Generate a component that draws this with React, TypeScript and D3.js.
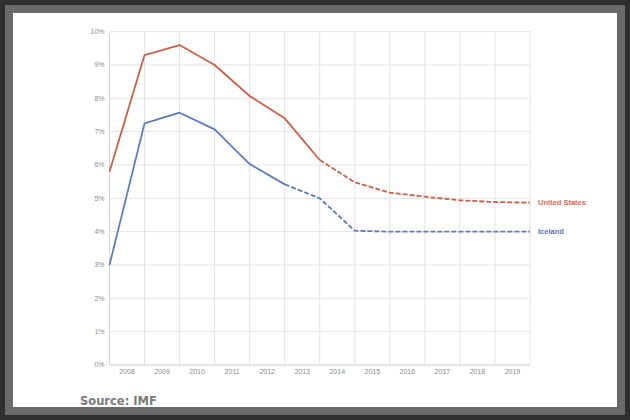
import React from "react";
import * as d3 from "d3";

const years = ["2008", "2009", "2010", "2011", "2012", "2013", "2014", "2015", "2016", "2017", "2018", "2019"];
const yTicks = [0, 1, 2, 3, 4, 5, 6, 7, 8, 9, 10];
// values at the 13 period boundaries (gridlines)
const usValues = [5.8, 9.3, 9.6, 9.0, 8.07, 7.4, 6.15, 5.48, 5.17, 5.05, 4.94, 4.89, 4.87];
const icelandValues = [3.0, 7.25, 7.57, 7.07, 6.03, 5.42, 5.0, 4.03, 4.0, 4.0, 4.0, 4.0, 4.0];
const usSolidUntil = 6;
const icelandSolidUntil = 5;

const W = 630;
const H = 420;
const left = 109.5;
const right = 530;
const top = 31.7;
const bottom = 365;

const US_COLOR = "#c4624b";
const IS_COLOR = "#5c7cbc";

export default function App() {
  const x = d3.scaleLinear().domain([0, years.length]).range([left, right]);
  const y = d3.scaleLinear().domain([0, 10]).range([bottom, top]);
  const line = d3
    .line<number>()
    .x((_, i) => x(i))
    .y((d) => y(d));

  const seg = (vals: number[], from: number, to: number) =>
    line.x((_, i) => x(i + from))(vals.slice(from, to + 1)) || "";

  const series = [
    { name: "United States", vals: usValues, split: usSolidUntil, color: US_COLOR, label: "#cf6a52" },
    { name: "Iceland", vals: icelandValues, split: icelandSolidUntil, color: IS_COLOR, label: "#5a6fbf" },
  ];

  const gridX = d3.range(0, years.length + 1);

  return (
    <svg
      width={W}
      height={H}
      style={{ position: "absolute", left: 0, top: 0 }}
      fontFamily="'Liberation Sans', Arial, sans-serif"
    >
      <rect x={0} y={0} width={W} height={H} fill="#2f2f2f" />
      <rect x={5} y={5} width={620} height={410} fill="#6a6a6a" />
      <rect x={13} y={13} width={604} height={394} fill="#ffffff" />

      {yTicks.map((t) => (
        <g key={"y" + t}>
          <line x1={left} x2={right} y1={y(t)} y2={y(t)} stroke="#e2e2e2" strokeWidth={1} />
          <text x={left - 5} y={y(t)} dy="0.35em" textAnchor="end" fontSize={7} fill="#8a8a8a">
            {t + "%"}
          </text>
        </g>
      ))}
      {gridX.map((g) => (
        <line key={"x" + g} x1={x(g)} x2={x(g)} y1={top} y2={bottom} stroke="#e2e2e2" strokeWidth={1} />
      ))}
      <line x1={left} x2={left} y1={top} y2={bottom} stroke="#d6d6d6" strokeWidth={1} />
      <line x1={left} x2={right} y1={bottom} y2={bottom} stroke="#d6d6d6" strokeWidth={1} />

      {years.map((yr, i) => (
        <text key={yr} x={x(i + 0.5)} y={371.7} dy="0.35em" textAnchor="middle" fontSize={7} fill="#8a8a8a">
          {yr}
        </text>
      ))}

      {series.map((s) => (
        <g key={s.name}>
          <path d={seg(s.vals, 0, s.split)} fill="none" stroke={s.color} strokeWidth={1.8} strokeLinejoin="round" />
          <path
            d={seg(s.vals, s.split, s.vals.length - 1)}
            fill="none"
            stroke={s.color}
            strokeWidth={1.8}
            strokeDasharray="5,2"
            strokeLinejoin="round"
          />
          <text
            x={right + 8}
            y={y(s.vals[s.vals.length - 1])}
            dy="0.35em"
            fontSize={7.5}
            fontWeight="bold"
            fill={s.label}
          >
            {s.name}
          </text>
        </g>
      ))}

      <text x={80} y={405} fontFamily="'DejaVu Sans', Verdana, sans-serif" fontWeight="bold" fontSize={11.5} fill="#7a7a7a">
        Source: IMF
      </text>
    </svg>
  );
}
